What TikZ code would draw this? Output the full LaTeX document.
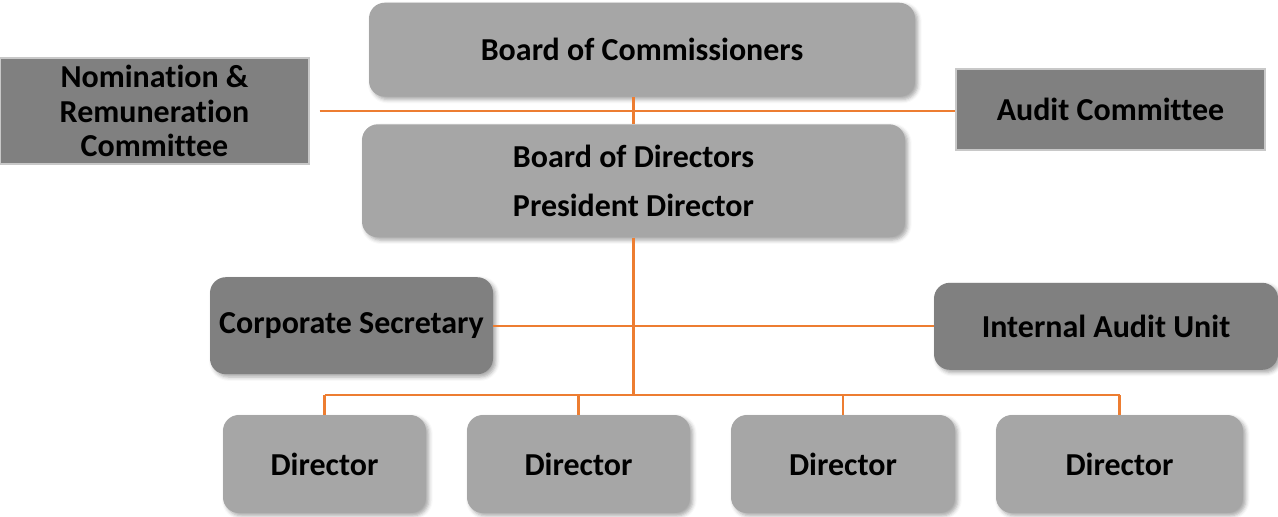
\documentclass[tikz,border=0pt]{standalone}
\usepackage{fontspec}
\setmainfont{Carlito}[Ligatures=NoCommon]
\usetikzlibrary{shadows.blur}
\definecolor{boxlite}{HTML}{A6A6A6}
\definecolor{boxdark}{HTML}{808080}
\definecolor{boxedge}{HTML}{C8C8C8}
\definecolor{linkorange}{HTML}{ED7D31}

\begin{document}
\begin{tikzpicture}[scale=0.2]
    \tikzstyle{every node}+=[inner sep=0pt, align=center, font=\fontsize{18.2}{19.6}\selectfont\bfseries]
    \tikzstyle{roundbox}=[rounded corners=9pt, blur shadow={shadow xshift=1.6pt, shadow yshift=-1.6pt, shadow blur radius=2.2pt, shadow opacity=35}]
    \tikzstyle{litebox}=[roundbox, fill=boxlite]
    \tikzstyle{darkbox}=[roundbox, fill=boxdark]
    \tikzstyle{flatbox}=[fill=boxdark, draw=boxedge, line width=0.6pt]
    \tikzstyle{link}=[linkorange, line width=1.2pt]
    \useasboundingbox (0,0) rectangle (127.8,-51.6);
    % boards and committees
    \node [litebox, minimum width=10.92cm, minimum height=1.88cm] (boc) at (64.2,-4.97) {Board of Commissioners};
    \node [flatbox, minimum width=6.18cm, minimum height=2.12cm] (nrc) at (15.45,-11.1) {Nomination \&\\Remuneration\\Committee};
    \node [flatbox, minimum width=6.18cm, minimum height=1.62cm] (ac) at (111.05,-10.95) {Audit Committee};
    \node [litebox, minimum width=10.86cm, minimum height=2.26cm] (bod) at (63.35,-18.08) {Board of Directors\\[8.4pt]President Director};
    % staff units
    \node [darkbox, minimum width=5.66cm, minimum height=1.94cm] (cs) at (35.15,-32.57) {Corporate Secretary};
    \node [darkbox, minimum width=6.88cm, minimum height=1.74cm] (iau) at (110.6,-32.63) {Internal Audit Unit};
    % directors
    \node [litebox, minimum width=4.06cm, minimum height=1.96cm] (d1) at (32.45,-46.4) {Director};
    \node [litebox, minimum width=4.46cm, minimum height=1.96cm] (d2) at (57.85,-46.4) {Director};
    \node [litebox, minimum width=4.48cm, minimum height=1.96cm] (d3) at (84.3,-46.4) {Director};
    \node [litebox, minimum width=4.94cm, minimum height=1.96cm] (d4) at (111.95,-46.4) {Director};
    \coordinate (bus) at (63.35,-39.5);
    % links
    \draw [link, shorten <=0.2cm] (nrc.east) -- (nrc.east -| ac.west);
    \draw [link] (boc.south -| bod.north) -- (bod.north);
    \draw [link] (bod.south) -- (bus);
    \draw [link] (cs.east) -- (cs.east -| bus);
    \draw [link] (iau.west) -- (iau.west -| bus);
    \draw [link] (d1.north |- bus) -- (d4.north |- bus);
    \foreach \d in {d1,d2,d3,d4}
        \draw [link] (\d.north) -- (\d.north |- bus);
\end{tikzpicture}
\end{document}
